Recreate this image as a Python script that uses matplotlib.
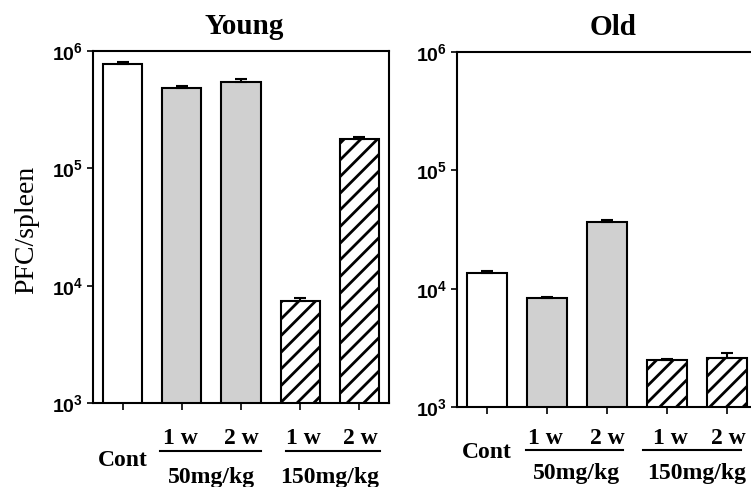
import numpy as np
import matplotlib
matplotlib.use('Agg')
from matplotlib import pyplot as plt
from matplotlib import transforms

plt.rcParams['mathtext.fontset'] = 'custom'
plt.rcParams['mathtext.bf'] = 'Liberation Sans:bold'
plt.rcParams['mathtext.rm'] = 'Liberation Sans:bold'
plt.rcParams['hatch.linewidth'] = 2.0

groups = ['Cont', '50mg/kg 1 w', '50mg/kg 2 w', '150mg/kg 1 w', '150mg/kg 2 w']
young = [7.7e5, 4.87e5, 5.41e5, 7.4e3, 1.78e5]
young_err = [3e4, 2e4, 4e4, 5e2, 6e3]
old = [1.36e4, 8.3e3, 3.64e4, 2.5e3, 2.61e3]
old_err = [5e2, 2.5e2, 1.6e3, 60, 2.7e2]

faces = ['white', '#d0d0d0', '#d0d0d0', 'white', 'white']
hatches = ['', '', '', '//', '//']

serif = 'Liberation Serif'

fig = plt.figure(figsize=(7.51, 4.87), dpi=100)
ax1 = fig.add_axes([93/751, 1-403/487, 296/751, 352/487])
ax2 = fig.add_axes([457/751, 1-407/487, 300/751, 355/487])

def draw(ax, vals, errs, title, title_pos, offs, lines):
    x = np.arange(len(vals))
    for i in range(len(vals)):
        ax.bar(x[i], vals[i], width=0.66, color=faces[i], hatch=hatches[i],
               edgecolor='black', linewidth=1.5, zorder=2)
    ax.errorbar(x, vals, yerr=[np.zeros(len(errs)), errs], fmt='none',
                ecolor='black', elinewidth=1.5, capsize=4.5, capthick=1.5, zorder=3)
    ax.set_yscale('log')
    ax.set_ylim(1e3, 1e6)
    ax.set_xlim(-0.5, 4.5)
    ax.set_xticks(x)
    ax.set_xticklabels([])
    ax.set_yticks([1e3, 1e4, 1e5, 1e6])
    ax.set_yticklabels([r'$\mathbf{10^{%d}}$' % k for k in [3, 4, 5, 6]])
    ax.yaxis.set_minor_locator(matplotlib.ticker.NullLocator())
    ax.tick_params(axis='y', length=4, width=1.2, pad=3, labelsize=14)
    ax.tick_params(axis='x', length=5, width=1.2)
    for s in ax.spines.values():
        s.set_linewidth(1.5)

    tr = transforms.blended_transform_factory(ax.transData, ax.transAxes)
    ax.text(title_pos[0], title_pos[1], title, transform=tr, ha='center', va='center',
            fontsize=21, fontweight='bold', family=serif)

    c_off, w_off, l_off, g_off = offs
    def lab(xv, off, s):
        ax.annotate(s, xy=(xv, 0), xycoords=tr, xytext=(0, -off*0.72),
                    textcoords='offset points', ha='center', va='center',
                    fontsize=17, fontweight='bold', family=serif,
                    annotation_clip=False)
    lab(0, c_off, 'Cont')
    lab(0.97, w_off, '1 w')
    lab(2.0, w_off, '2 w')
    lab(3.05, w_off, '1 w')
    lab(4.02, w_off, '2 w')
    lab(1.5, g_off, '50mg/kg')
    lab(3.5, g_off, '150mg/kg')
    shift = transforms.ScaledTranslation(0, -l_off/100, fig.dpi_scale_trans)
    for (a, b) in lines:
        ax.plot([a, b], [0, 0], color='black', lw=1.5, clip_on=False,
                transform=tr + shift)

draw(ax1, young, young_err, 'Young', (2.05, 1 + 24/352), (57, 35, 48, 74),
     [(0.64, 2.34), (2.76, 4.34)])
draw(ax2, old, old_err, 'Old', (2.1, 1 + 25/355), (45, 31, 43, 66),
     [(0.65, 2.27), (2.6, 4.23)])
ax2.spines['right'].set_visible(False)

fig.text(27/751, 1-230/487, 'PFC/spleen', rotation=90, ha='center', va='center',
         fontsize=20, family=serif)

fig.savefig('out.png', dpi=100)
